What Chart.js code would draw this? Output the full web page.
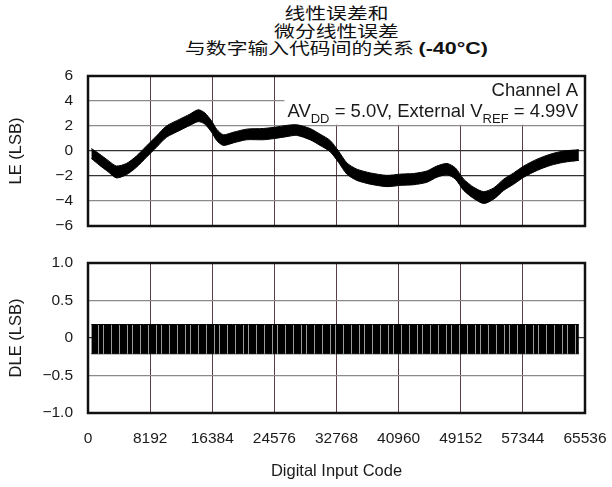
<!DOCTYPE html>
<html>
<head>
<meta charset="utf-8">
<script src="https://cdn.jsdelivr.net/npm/chart.js@4.4.0/dist/chart.umd.min.js"></script>
<style>
body { margin: 0; background: #fff; }
#wrap { position: relative; width: 612px; height: 487px; overflow: hidden; }
.title { position: absolute; left: 88px; width: 497px; top: 4px; text-align: center;
         font-family: "Noto Sans CJK SC", sans-serif; font-size: 16px; line-height: 17.5px;
         color: #111; transform: scaleX(1.3); transform-origin: 50% 0; }
.title b { font-family: "Liberation Sans", Arial, sans-serif; font-size: 16.5px; }
canvas { position: absolute; left: 0; }
#leChart { top: 56px; }
#dleChart { top: 240px; }
</style>
</head>
<body>
<div id="wrap">
  <div class="title">线性误差和<br>微分线性误差<br>与数字输入代码间的关系 <b>(-40°C)</b></div>
  <canvas id="leChart" width="612" height="190"></canvas>
  <canvas id="dleChart" width="612" height="247"></canvas>
</div>
<script>
// x axis
const xTicks = [0, 8192, 16384, 24576, 32768, 40960, 49152, 57344, 65536];

// LE band, upper and lower edge of the noisy trace
const leCodes = [440, 1540, 2640, 3740, 5060, 6390, 7710, 9030, 10350, 12110, 13430, 14530, 15410, 16300, 16960, 17840,
    19160, 20920, 23120, 24580, 26200, 27520, 29280, 30600, 31920, 33030, 34130, 35450, 37210, 39410, 41170, 42930,
    44690, 46010, 47340, 48440, 49540, 50860, 52180, 53500, 54820, 56140, 57460, 59230, 60990, 62750, 64730];
const leUpper = [0.2, -0.25, -0.75, -1.2, -1.0, -0.4, 0.4, 1.2, 2.0, 2.55, 2.95, 3.3, 3.05, 2.4, 1.75, 1.3,
    1.5, 1.75, 1.8, 1.9, 2.05, 2.1, 1.8, 1.35, 0.85, 0.0, -0.95, -1.45, -1.75, -1.95, -1.85, -1.8,
    -1.6, -1.2, -1.0, -1.35, -2.25, -2.9, -3.25, -2.95, -2.25, -1.75, -1.2, -0.65, -0.25, 0.0, 0.1];
const leLower = [-0.6, -1.15, -1.65, -2.15, -1.9, -1.3, -0.5, 0.3, 1.1, 1.65, 2.05, 2.35, 2.15, 1.5, 0.85, 0.45,
    0.65, 0.9, 0.9, 1.0, 1.15, 1.25, 0.9, 0.45, -0.05, -0.9, -1.85, -2.35, -2.65, -2.85, -2.75, -2.7,
    -2.5, -2.1, -1.9, -2.25, -3.15, -3.8, -4.2, -3.85, -3.15, -2.65, -2.1, -1.55, -1.15, -0.9, -0.75];

// DLE band
const dleCodes = [440, 16384, 32768, 49152, 64730];
const dleUpper = [0.18, 0.18, 0.18, 0.18, 0.18];
const dleLower = [-0.21, -0.21, -0.21, -0.21, -0.21];

const leTicks = [-6, -4, -2, 0, 2, 4, 6];
const dleTicks = [-1.0, -0.5, 0, 0.5, 1.0];

const sans = '"Liberation Sans", Arial, sans-serif';
const ink = '#1a1a1a';

function pts(xs, ys) {
    return xs.map((x, i) => ({ x: x, y: ys[i] }));
}

function minus(s) {
    return String(s).replace('-', '\u2212');
}

// black fill with thin light streaks, like the dense DLE trace
function streaks() {
    const p = document.createElement('canvas');
    p.width = 29; p.height = 4;
    const g = p.getContext('2d');
    g.fillStyle = '#000';
    g.fillRect(0, 0, 29, 4);
    g.fillStyle = '#9a9a9a';
    [3, 11, 16, 24].forEach(x => g.fillRect(x, 0, 1, 4));
    return g.createPattern(p, 'repeat');
}

// scales keep no label overhang, layout padding alone places the plot
function noPad(s) {
    s.paddingTop = 0; s.paddingBottom = 0; s.paddingLeft = 0; s.paddingRight = 0;
}

// box round the plot area
const frame = {
    id: 'frame',
    afterDatasetsDraw(chart) {
        const a = chart.chartArea;
        const c = chart.ctx;
        c.save();
        c.strokeStyle = '#111';
        c.lineWidth = 2.5;
        c.strokeRect(a.left, a.top, a.right - a.left, a.bottom - a.top);
        c.restore();
    }
};

// white label box with "Channel A" text
const note = {
    id: 'note',
    beforeDatasetsDraw(chart) {
        const c = chart.ctx;
        const a = chart.chartArea;
        const xs = chart.scales.x, ys = chart.scales.y;
        const x0 = xs.getPixelForValue(25900);
        const y1 = ys.getPixelForValue(2.1);
        c.save();
        c.fillStyle = '#fff';
        c.fillRect(x0, a.top, a.right - x0, y1 - a.top);
        c.fillStyle = ink;
        c.textBaseline = 'alphabetic';
        const big = '18.5px ' + sans, small = '13px ' + sans;
        c.font = big;
        c.textAlign = 'right';
        c.fillText('Channel A', a.right - 7, a.top + 20);
        c.textAlign = 'left';
        const parts = [['AV', big, 0], ['DD', small, 6], [' = 5.0V, External V', big, 0], ['REF', small, 6], [' = 4.99V', big, 0]];
        let w = 0;
        parts.forEach(p => { c.font = p[1]; w += c.measureText(p[0]).width; });
        let x = a.right - 7 - w;
        const base = a.top + 41;
        parts.forEach(p => {
            c.font = p[1];
            c.fillText(p[0], x, base + p[2]);
            x += c.measureText(p[0]).width;
        });
        c.restore();
    }
};

function band(codes, up, low, fillStyle) {
    return [{
        data: pts(codes, up),
        borderColor: '#000',
        borderWidth: 1,
        backgroundColor: fillStyle,
        fill: '+1',
        pointRadius: 0,
        tension: 0.25
    }, {
        data: pts(codes, low),
        borderColor: '#000',
        borderWidth: 1,
        fill: false,
        pointRadius: 0,
        tension: 0.25
    }];
}

function yAxis(ticks, title, darkVals, fmt) {
    return {
        min: ticks[0],
        max: ticks[ticks.length - 1],
        afterBuildTicks: s => { s.ticks = ticks.map(v => ({ value: v })); },
        afterFit: s => { s.width = 88; noPad(s); },
        border: { display: false },
        grid: {
            drawTicks: false,
            lineWidth: 1.2,
            color: c => darkVals.includes(c.tick.value) ? '#333' : '#8a8a8a'
        },
        ticks: {
            padding: 15,
            color: ink,
            font: { family: sans, size: 15.5 },
            callback: fmt
        },
        title: {
            display: true,
            text: title,
            color: ink,
            padding: { top: 7, bottom: 0 },
            font: { family: sans, size: 16.5 }
        }
    };
}

function xAxis(showLabels) {
    return {
        type: 'linear',
        min: 0,
        max: 65536,
        afterBuildTicks: s => { s.ticks = xTicks.map(v => ({ value: v })); },
        afterFit: s => { s.height = showLabels ? 74 : 0; noPad(s); },
        border: { display: false },
        grid: { drawTicks: false, color: '#5b3d47', lineWidth: 1 },
        ticks: {
            display: showLabels,
            padding: 16,
            maxRotation: 0,
            autoSkip: false,
            color: ink,
            font: { family: sans, size: 15.5 },
            callback: v => String(v)
        },
        title: {
            display: showLabels,
            text: 'Digital Input Code',
            color: ink,
            padding: { top: 0, bottom: 6 },
            font: { family: sans, size: 16.5 }
        }
    };
}

const common = {
    responsive: false,
    animation: false,
    events: [],
    plugins: { legend: { display: false }, tooltip: { enabled: false } }
};

new Chart(document.getElementById('leChart').getContext('2d'), {
    type: 'line',
    data: { datasets: band(leCodes, leUpper, leLower, '#000') },
    options: Object.assign({}, common, {
        layout: { padding: { top: 20, bottom: 20, left: 0, right: 27 } },
        scales: {
            x: xAxis(false),
            y: yAxis(leTicks, 'LE (LSB)', [0, -2], v => minus(v))
        }
    }),
    plugins: [note, frame]
});

new Chart(document.getElementById('dleChart').getContext('2d'), {
    type: 'line',
    data: { datasets: band(dleCodes, dleUpper, dleLower, streaks()) },
    options: Object.assign({}, common, {
        layout: { padding: { top: 23, bottom: 0, left: 0, right: 27 } },
        scales: {
            x: xAxis(true),
            y: yAxis(dleTicks, 'DLE (LSB)', [0], v => v === 0 ? '0' : minus(v.toFixed(1)))
        }
    }),
    plugins: [frame]
});
</script>
</body>
</html>
